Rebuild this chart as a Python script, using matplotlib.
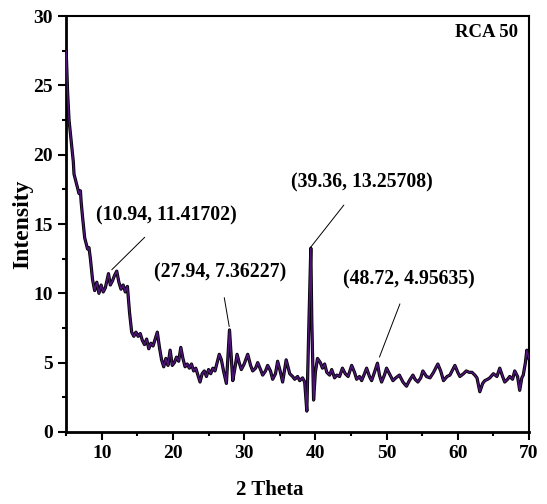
#!/usr/bin/env python3
"""XRD pattern of RCA 50 with labelled peaks."""

import matplotlib
matplotlib.use("Agg")
import matplotlib.pyplot as plt
from matplotlib.ticker import MultipleLocator

plt.rcParams["font.family"] = ["Liberation Serif", "DejaVu Serif"]
plt.rcParams["font.weight"] = "bold"

# 2 theta (deg) and intensity
two_theta = [
    5.0, 5.2, 5.4, 5.7, 6.0, 6.1, 6.4, 6.6, 6.8, 7.0, 7.1, 7.3, 7.6, 7.8, 8.0,
    8.2, 8.4, 8.7, 9.0, 9.3, 9.6, 9.9, 10.2, 10.5, 10.94,
    11.2, 11.5, 11.8, 12.1, 12.4, 12.7, 13.0, 13.3, 13.6, 13.9, 14.2,
    14.5, 14.8, 15.1, 15.4, 15.7, 16.0, 16.3, 16.6, 16.9, 17.2, 17.5, 17.8,
    18.1, 18.4, 18.7, 19.0, 19.3, 19.6, 19.9, 20.2, 20.5, 20.8, 21.1,
    21.4, 21.7, 22.0, 22.3, 22.6, 22.9, 23.2, 23.5, 23.8, 24.1, 24.4, 24.7,
    25.0, 25.3, 25.6, 25.9, 26.2, 26.5,
    26.8, 27.1, 27.5, 27.94, 28.4, 28.7, 29.0, 29.3, 29.6,
    30.0, 30.5, 30.9, 31.2, 31.6, 31.9, 32.3, 32.6, 33.0, 33.3, 33.7, 34.0,
    34.4, 34.7, 35.1, 35.4,
    35.9, 36.4, 36.8, 37.1, 37.5, 37.8, 38.2, 38.5, 38.8, 39.1, 39.36, 39.5,
    39.75, 40.0,
    40.3, 40.7, 41.0, 41.3, 41.6, 42.0, 42.3, 42.7, 43.0, 43.4, 43.8, 44.2,
    44.6, 45.1,
    45.5, 45.8, 46.2, 46.5, 46.9, 47.2, 47.6, 47.9, 48.3, 48.72, 49.0, 49.3,
    49.7, 50.0,
    50.4, 50.9, 51.3, 51.8, 52.3, 52.8, 53.2, 53.7, 54.0, 54.4, 54.8, 55.1,
    55.6, 56.1, 56.6,
    57.2, 57.6, 58.0, 58.5, 58.9, 59.2, 59.6, 60.0, 60.3, 60.8, 61.2, 61.6,
    62.0, 62.4, 62.7, 63.1, 63.5, 63.8, 64.2, 64.5, 65.0, 65.5, 65.9, 66.3,
    66.6, 67.0, 67.3, 67.7, 68.0, 68.4, 68.7, 69.0, 69.2, 69.5, 69.7, 70.0,
]
intensity = [
    27.5, 24.5, 22.5, 21.0, 19.5, 18.6, 18.0, 17.6, 17.2, 17.4, 16.6, 15.5, 14.0, 13.6, 13.2,
    13.3, 12.5, 11.0, 10.2, 10.8, 10.0, 10.6, 10.1, 10.4, 11.42,
    10.6, 10.9, 11.3, 11.6, 10.8, 10.3, 10.6, 10.1, 10.5, 8.6, 7.2,
    6.9, 7.2, 6.9, 7.1, 6.6, 6.3, 6.7, 6.0, 6.4, 6.2, 6.7, 7.2,
    6.1, 5.2, 4.7, 5.3, 4.8, 5.9, 4.8, 5.0, 5.4, 5.1, 6.1,
    5.3, 4.7, 4.9, 4.6, 4.9, 4.4, 4.6, 4.1, 3.6, 4.2, 4.4, 4.0,
    4.5, 4.2, 4.6, 4.4, 5.0, 5.6,
    5.2, 4.4, 3.5, 7.36, 3.7, 4.6, 5.6, 5.0, 4.5,
    4.9, 5.6, 4.8, 4.4, 4.6, 5.0, 4.5, 4.1, 4.4, 4.8, 4.4, 3.8,
    4.2, 5.1, 4.3, 3.6,
    5.2, 4.2, 4.0, 3.8, 4.0, 3.7, 3.9, 3.6, 1.5, 8.0, 13.26, 8.0,
    2.3, 4.3,
    5.3, 5.0, 4.6, 4.9, 4.3, 4.1, 4.5, 3.9, 4.1, 4.0, 4.6, 4.2,
    4.0, 4.8,
    4.3, 3.8, 4.0, 3.7, 4.2, 4.6, 4.0, 3.7, 4.3, 4.96, 4.1, 3.6,
    4.1, 4.6,
    4.2, 3.7, 3.9, 4.1, 3.6, 3.3, 3.7, 4.1, 3.8, 3.6, 3.9, 4.4,
    4.0, 3.9, 4.3,
    4.9, 4.4, 3.7, 4.0, 4.1, 4.4, 4.8, 4.3, 4.0, 4.2, 4.4, 4.3,
    4.3, 4.1, 3.9, 2.9, 3.5, 3.7, 3.8, 3.9, 4.2, 4.0, 4.6, 4.0,
    3.6, 3.8, 4.0, 3.8, 4.4, 4.0, 3.0, 3.9, 4.1, 5.0, 5.9, 5.3,
]

# peak labels: text, point, text position
peak_labels = ["(10.94, 11.41702)", "(27.94, 7.36227)",
               "(39.36, 13.25708)", "(48.72, 4.95635)"]
peak_xy = [(11.4, 11.7), (27.9, 7.6), (39.3, 13.3), (49.0, 5.4)]
label_xy = [(19.1, 15.6), (26.6, 11.5), (46.5, 18.0), (53.2, 11.0)]

fig = plt.figure(figsize=(5.47, 5.04), dpi=100)
ax = fig.add_axes([0.121, 0.143, 0.846, 0.825])

ax.plot(two_theta, intensity, color="black", lw=2.3, zorder=2)
ax.plot(two_theta, intensity, color="#4d1577", lw=1.1, zorder=3)

for text, p, t in zip(peak_labels, peak_xy, label_xy):
    ax.annotate(text, xy=p, xytext=t, ha="center", va="center",
                fontsize=14.2, fontweight="bold",
                arrowprops=dict(arrowstyle="-", color="black", lw=0.7,
                                shrinkA=9, shrinkB=0))

ax.text(68.4, 28.8, "RCA 50", ha="right", va="center",
        fontsize=13.5, fontweight="bold")

ax.set_xlim(5, 70)
ax.set_ylim(0, 30)
ax.xaxis.set_major_locator(MultipleLocator(10))
ax.xaxis.set_minor_locator(MultipleLocator(5))
ax.yaxis.set_major_locator(MultipleLocator(5))
ax.yaxis.set_minor_locator(MultipleLocator(2.5))
ax.tick_params(which="both", direction="out", width=1.5, labelsize=14,
               top=False, right=False)
ax.tick_params(which="major", length=6)
ax.tick_params(which="minor", length=3)
for lab in ax.get_xticklabels() + ax.get_yticklabels():
    lab.set_fontweight("bold")

ax.spines["left"].set_linewidth(2)
ax.spines["bottom"].set_linewidth(2)
ax.spines["top"].set_linewidth(1.5)
ax.spines["right"].set_linewidth(1.5)

ax.set_xlabel("2 Theta", fontsize=15, fontweight="bold")
ax.xaxis.set_label_coords(0.44, -0.115)
ax.set_ylabel("Intensity", fontsize=17, fontweight="bold")
ax.yaxis.set_label_coords(-0.072, 0.5)

fig.savefig("out.png", dpi=100)
